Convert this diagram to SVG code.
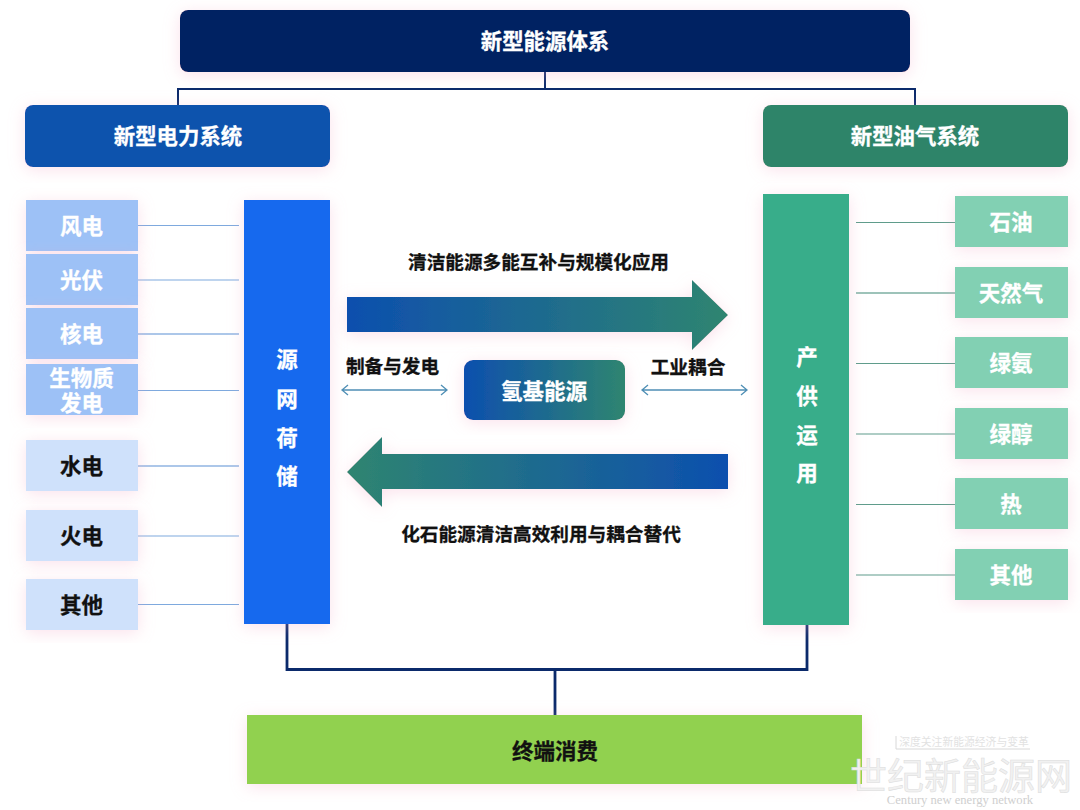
<svg xmlns="http://www.w3.org/2000/svg" width="1080" height="810" viewBox="0 0 1080 810">
<defs>
<linearGradient id="bg1" x1="0" y1="0" x2="1" y2="0"><stop offset="0" stop-color="#0d4fae"/><stop offset="1" stop-color="#2f8570"/></linearGradient>
<linearGradient id="bg2" x1="1" y1="0" x2="0" y2="0"><stop offset="0" stop-color="#0d4fae"/><stop offset="1" stop-color="#2f8570"/></linearGradient>
<filter id="sh" x="-25%" y="-25%" width="150%" height="150%"><feDropShadow dx="0" dy="3" stdDeviation="8" flood-color="#f3a6c4" flood-opacity="0.33"/></filter>
</defs>
<style>
text{font-family:"Noto Sans CJK SC","Liberation Sans",sans-serif;font-weight:700;text-anchor:middle}
.w{fill:#fff;stroke:#fff;stroke-width:.3}.k{fill:#111;stroke:#111;stroke-width:.3}
.f22{font-size:21.400px}.f20{font-size:21.500px}.f18{font-size:18.650px}
.bl{fill:#9dc1f6;filter:url(#sh)}.bl2{fill:#cfe1fb;filter:url(#sh)}.gr{fill:#82d0b3;filter:url(#sh)}
.c{fill:none;stroke:#0b2a6b}
.lb{fill:none;stroke:#7ea9de;stroke-width:1.2}.lg{fill:none;stroke:#5f9c8b;stroke-width:1.2}
.dbl{fill:none;stroke:#4f8fb5;stroke-width:1.3}
.wm{fill:#f1f1f1;stroke:#dcdcdc;stroke-width:.5;font-family:"Noto Sans CJK SC",serif;font-weight:400}
.wme{fill:#cfcfcf;stroke:none;font-family:"Liberation Serif",serif;font-weight:400}
</style>
<g id="connectors">
<path class="c" stroke-width="2" d="M178 105V89H915V105M545 72V89"/>
<path class="c" stroke-width="2.800" d="M287 624V669.500H807V625M555 669.500V715"/>
<path class="lb" d="M138 225.500H239M138 280H239M138 390.500H239M138 536H239M138 604.500H239"/>
<path class="lb" stroke-width="1.800" style="stroke:#5a8fd4" d="M138 334H239M138 466H239"/>
<path class="lg" d="M856 222.500H955M856 363.500H955M856 434H955M856 504.500H955M856 575H955"/>
<path class="lg" style="stroke:#3d8775" d="M856 293H955"/>
<path class="dbl" d="M342 390H447M348 385L342 390L348 395M441 385L447 390L441 395"/>
<path class="dbl" d="M642 390H747M648 385L642 390L648 395M741 385L747 390L741 395"/>
</g>
<g id="n-root"><rect x="180" y="10" width="730" height="62" rx="8" fill="#052262" filter="url(#sh)"/><text class="w f22" x="545" y="49">新型能源体系</text></g>
<g id="n-power"><rect x="25" y="105" width="305" height="62" rx="8" fill="#0f52ad" filter="url(#sh)"/><text class="w f22" x="178" y="144">新型电力系统</text></g>
<g id="n-oil"><rect x="763" y="105" width="305" height="62" rx="8" fill="#2e8469" filter="url(#sh)"/><text class="w f22" x="915" y="144">新型油气系统</text></g>
<g id="n-wind"><rect class="bl" x="26" y="200" width="112" height="51"/><text class="w f20" x="81.500" y="234">风电</text></g>
<g id="n-pv"><rect class="bl" x="26" y="254" width="112" height="51"/><text class="w f20" x="81.500" y="288">光伏</text></g>
<g id="n-nuc"><rect class="bl" x="26" y="308" width="112" height="51"/><text class="w f20" x="81.500" y="342">核电</text></g>
<g id="n-bio"><rect class="bl" x="26" y="364" width="112" height="51"/><text class="w f20" x="81.500" y="386">生物质</text><text class="w f20" x="81.500" y="411">发电</text></g>
<g id="n-hydro"><rect class="bl2" x="26" y="440" width="112" height="51"/><text class="k f20" x="81.500" y="474">水电</text></g>
<g id="n-thermal"><rect class="bl2" x="26" y="510" width="112" height="51"/><text class="k f20" x="81.500" y="544">火电</text></g>
<g id="n-other1"><rect class="bl2" x="26" y="579" width="112" height="51"/><text class="k f20" x="81.500" y="613">其他</text></g>
<g id="n-ywhc"><rect x="244" y="200" width="86" height="424" fill="#1269ee" filter="url(#sh)"/><text class="w f20" x="287" y="367">源</text><text class="w f20" x="287" y="407">网</text><text class="w f20" x="287" y="446">荷</text><text class="w f20" x="287" y="484">储</text></g>
<g id="n-cgyy"><rect x="763" y="194" width="86" height="431" fill="#38ad8a" filter="url(#sh)"/><text class="w f20" x="807" y="365">产</text><text class="w f20" x="807" y="404">供</text><text class="w f20" x="807" y="443">运</text><text class="w f20" x="807" y="481">用</text></g>
<g id="n-oilb"><rect class="gr" x="955" y="196" width="113" height="51"/><text class="w f20" x="1011" y="230">石油</text></g>
<g id="n-gas"><rect class="gr" x="955" y="267" width="113" height="51"/><text class="w f20" x="1011" y="301">天然气</text></g>
<g id="n-nh3"><rect class="gr" x="955" y="337" width="113" height="51"/><text class="w f20" x="1011" y="371">绿氨</text></g>
<g id="n-meoh"><rect class="gr" x="955" y="408" width="113" height="51"/><text class="w f20" x="1011" y="442">绿醇</text></g>
<g id="n-heat"><rect class="gr" x="955" y="478" width="113" height="51"/><text class="w f20" x="1011" y="512">热</text></g>
<g id="n-other2"><rect class="gr" x="955" y="549" width="113" height="51"/><text class="w f20" x="1011" y="583">其他</text></g>
<g id="n-h2"><rect x="464" y="360" width="161" height="60" rx="9" fill="url(#bg1)" filter="url(#sh)"/><text class="w f20" x="544" y="399">氢基能源</text></g>
<g id="n-end"><rect x="247" y="715" width="615" height="69" fill="#91d14f" filter="url(#sh)"/><text class="k f20" x="555" y="759">终端消费</text></g>
<g id="arrow-right"><path d="M347 297H692V280L728 315L692 350V332H347Z" fill="url(#bg1)" filter="url(#sh)"/></g>
<g id="arrow-left"><path d="M728 454H382V437L347 472L382 507V489H728Z" fill="url(#bg2)" filter="url(#sh)"/></g>
<g id="labels">
<text class="k f18" x="538.500" y="269">清洁能源多能互补与规模化应用</text>
<text class="k f18" x="392.500" y="373">制备与发电</text>
<text class="k f18" x="688" y="374">工业耦合</text>
<text class="k f18" x="541" y="541">化石能源清洁高效利用与耦合替代</text>
</g>
<g id="watermark">
<path d="M896 736V749H1030" fill="none" stroke="#d8d8d8" stroke-width="1"/>
<text class="wme wm" style="font-family:'Noto Sans CJK SC',sans-serif;fill:#e2e2e2;stroke:none" x="964" y="746" font-size="10.800">深度关注新能源经济与变革</text>
<text class="wm" x="961" y="790" font-size="37">世纪新能源网</text>
<text class="wme" x="960" y="804" font-size="12.600">Century new energy network</text>
</g>
</svg>
